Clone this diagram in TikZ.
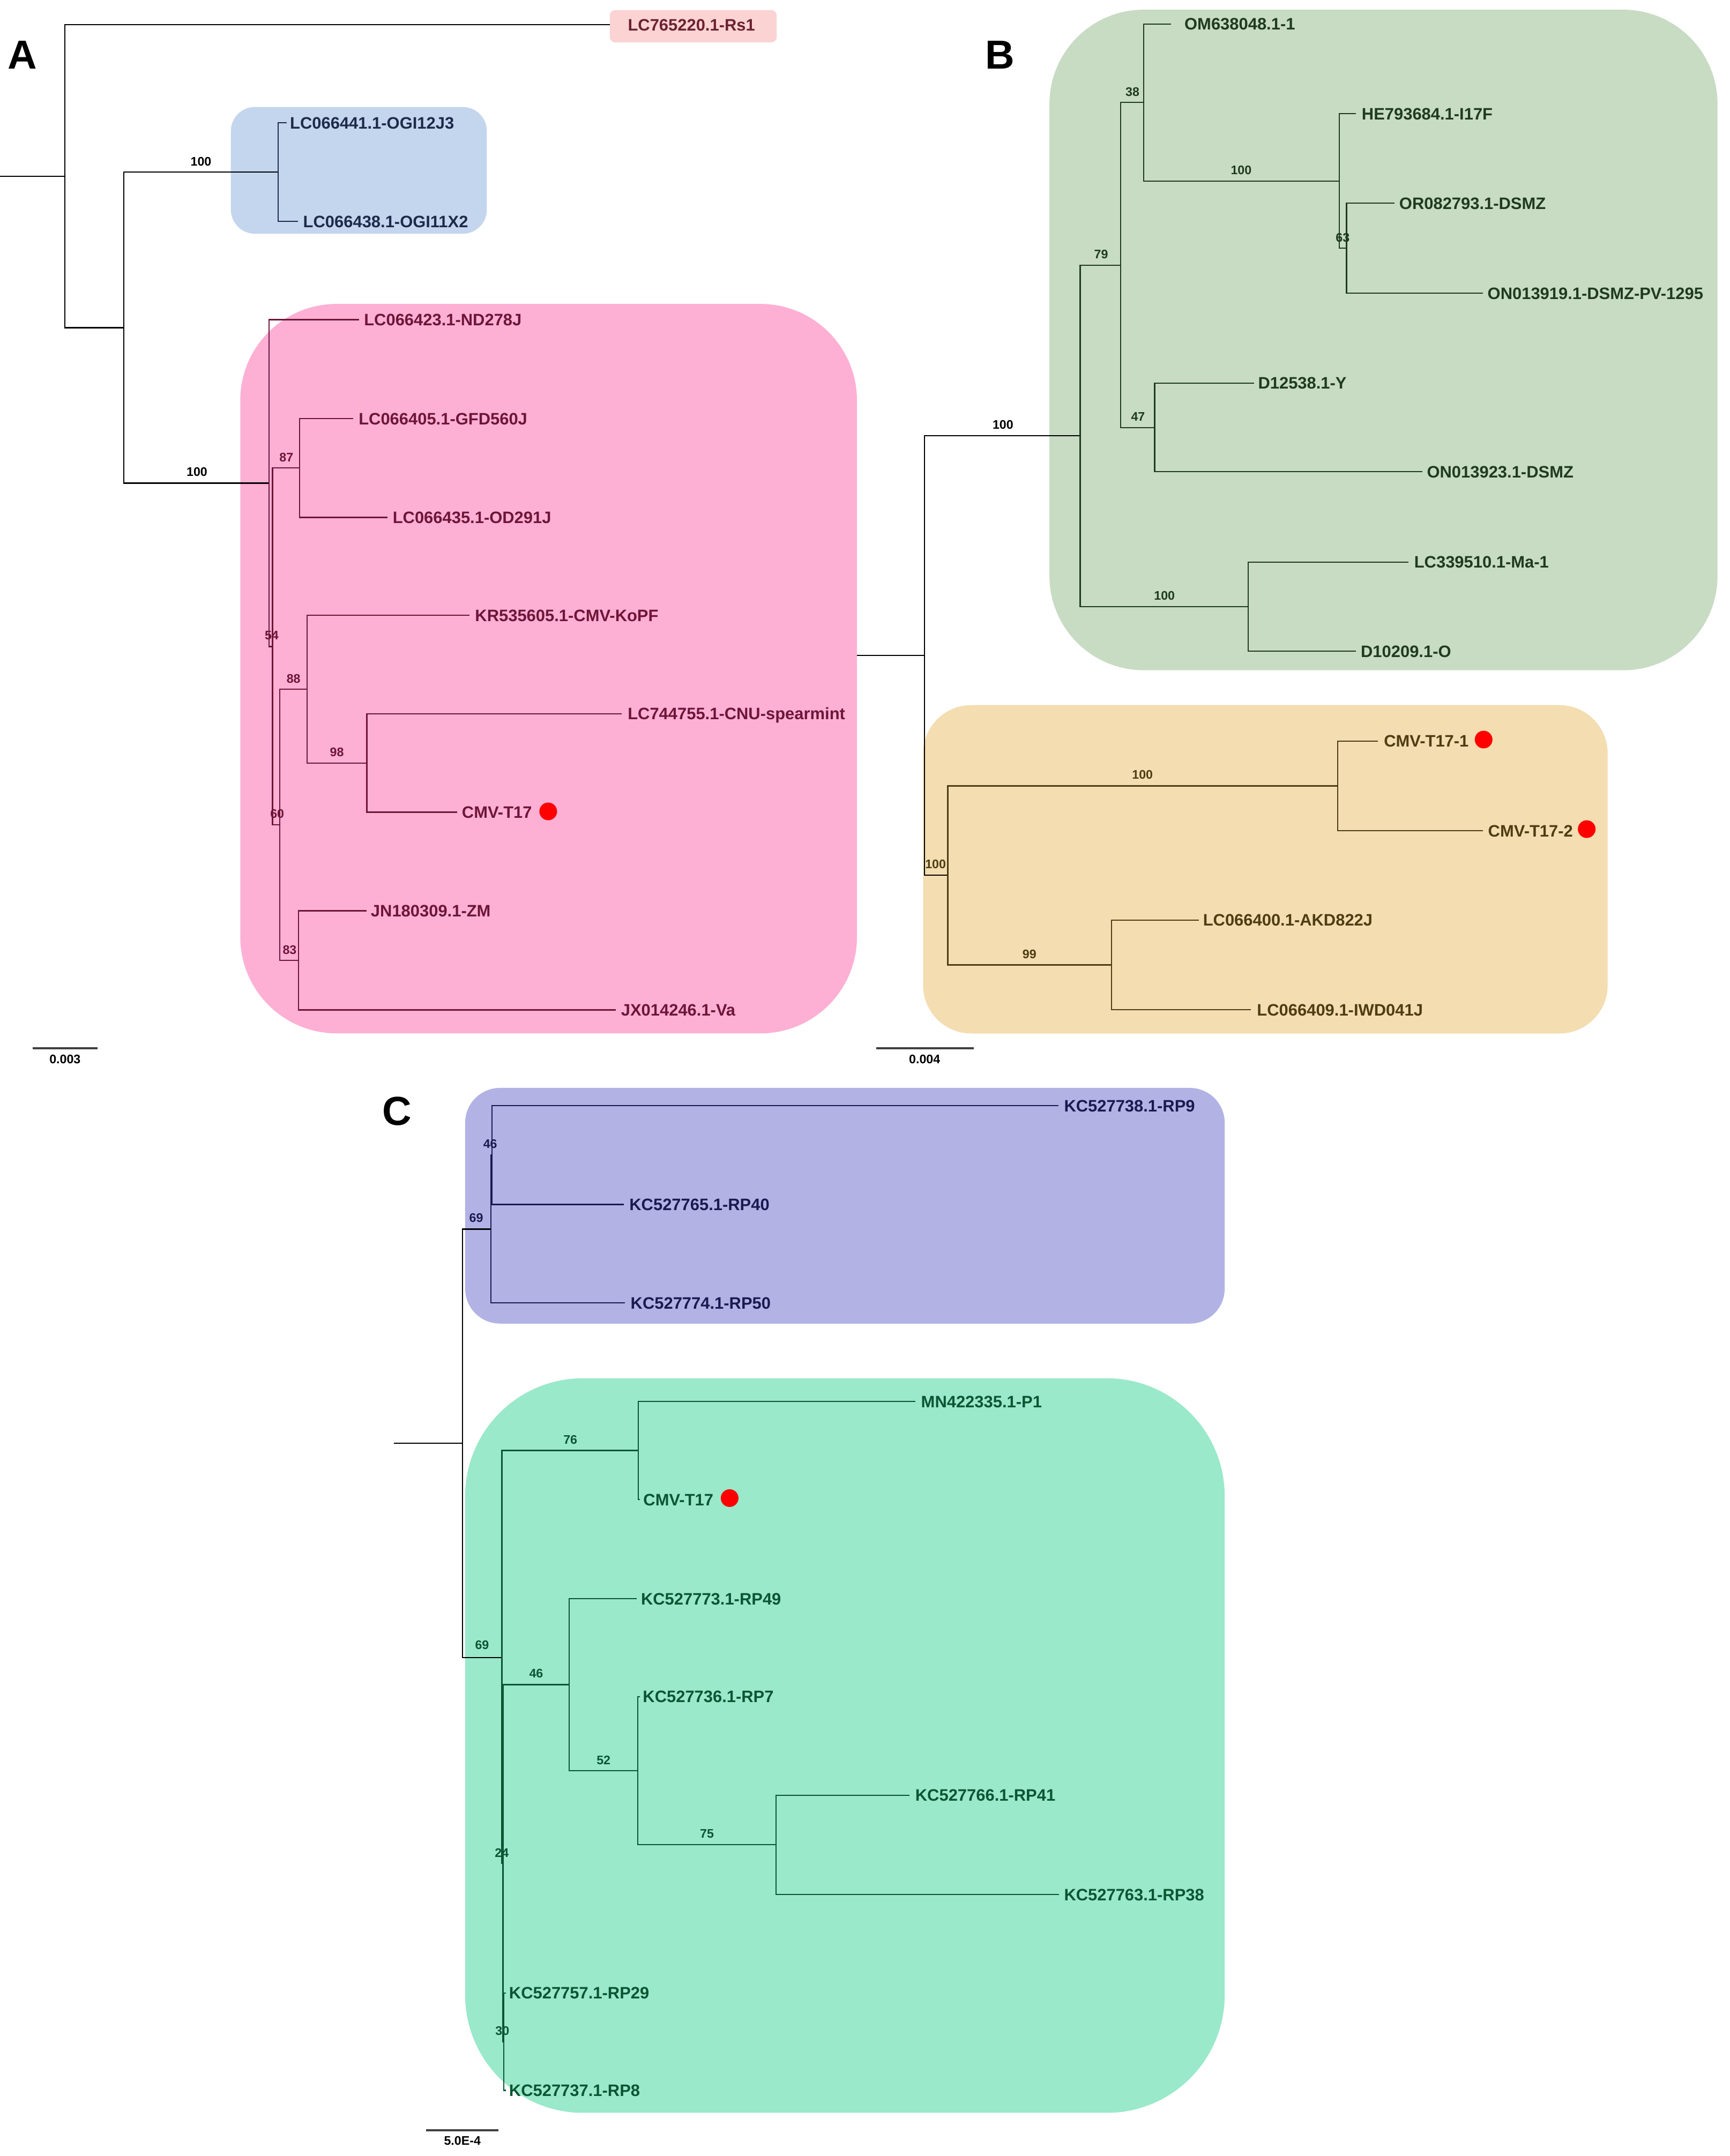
\documentclass[tikz,border=0pt]{standalone}
\usepackage{fontspec}
\setmainfont{Liberation Sans}
\definecolor{rsbox}{HTML}{FBD3D3}
\definecolor{bluebox}{HTML}{C4D5EE}
\definecolor{pinkbox}{HTML}{FDB0D4}
\definecolor{gbbox}{HTML}{C8DBC3}
\definecolor{ybox}{HTML}{F3DDB1}
\definecolor{pbox}{HTML}{B2B3E4}
\definecolor{gcbox}{HTML}{9AE9CA}
\definecolor{rsink}{HTML}{6B2232}
\definecolor{blueink}{HTML}{1C2B4A}
\definecolor{pinkink}{HTML}{6E1538}
\definecolor{gbink}{HTML}{1F3B1F}
\definecolor{yink}{HTML}{4F3C12}
\definecolor{pink2ink}{HTML}{1A1A4F}
\definecolor{gcink}{HTML}{0B5535}
\tikzset{
  br/.style={line width=0.65pt},
  taxon/.style={anchor=west, inner sep=0pt, text height=6.33pt, text depth=0pt, font=\bfseries\fontsize{8.8}{10.6}\selectfont},
  boot/.style={inner sep=0pt, anchor=center, font=\bfseries\fontsize{6.6}{8}\selectfont},
  panel/.style={inner sep=0pt, anchor=center, font=\bfseries\fontsize{21.5}{26}\selectfont},
  reddot/.style={circle, fill=red, draw=none, inner sep=0pt, minimum size=0.33cm},
  sbar/.style={line width=1.1pt, draw=black!75}
}
\newcommand{\leafnode}[6]{\coordinate (#1) at (#2,#3);\node[taxon,text=#5] (#1L) at (#4,#3) {#6};}
\begin{document}
\begin{tikzpicture}[x=0.025824cm,y=-0.025824cm]
\useasboundingbox (0,0) rectangle (1250,1557.9);
% ---------- clade boxes ----------
\fill[rsbox, rounded corners=0.1cm] (440.6,7.3) rectangle (561.2,30.6);
\fill[bluebox, rounded corners=0.45cm] (166.8,77.3) rectangle (351.8,168.9);
\fill[pinkbox, rounded corners=1.8cm] (173.6,219.6) rectangle (619.2,746.7);
\fill[gbbox, rounded corners=1.76cm] (758.3,7.0) rectangle (1241.0,484.3);
\fill[ybox, rounded corners=0.9cm] (667.0,509.5) rectangle (1161.6,746.8);
\fill[pbox, rounded corners=0.65cm] (336.1,786.1) rectangle (884.9,956.4);
\fill[gcbox, rounded corners=2.2cm] (336.1,995.9) rectangle (884.9,1526.7);
% ---------- panel letters ----------
\node[panel] (lblA) at (16.3,39.8) {A};
\node[panel] (lblB) at (722.5,39.5) {B};
\node[panel] (lblC) at (287,803) {C};
% =============== PANEL A ===============
\coordinate (Astub) at (0,127.3);
\coordinate (Ar) at (46.9,127.3);
\coordinate (An1) at (89.4,236.75);
\coordinate (Ablue) at (201.0,124.4);
\coordinate (Apink) at (194.5,349.1);
\coordinate (A54) at (196.9,467.2);
\coordinate (A87) at (216.4,338.15);
\coordinate (A60) at (202.1,596.1);
\coordinate (A88) at (222.0,498.0);
\coordinate (A98) at (265.1,551.3);
\coordinate (A83) at (215.6,693.95);
\leafnode{tRs}{440.6}{17.8}{453.4}{rsink}{LC765220.1-Rs1}
\leafnode{tOGIa}{207.3}{88.8}{209.3}{blueink}{LC066441.1-OGI12J3}
\leafnode{tOGIb}{215.5}{160.0}{218.8}{blueink}{LC066438.1-OGI11X2}
\leafnode{tND}{259.3}{231.0}{262.8}{pinkink}{LC066423.1-ND278J}
\leafnode{tGFD}{255.0}{302.4}{258.9}{pinkink}{LC066405.1-GFD560J}
\leafnode{tOD}{280.0}{373.9}{283.5}{pinkink}{LC066435.1-OD291J}
\leafnode{tKoPF}{339.2}{444.6}{343.0}{pinkink}{KR535605.1-CMV-KoPF}
\leafnode{tSp}{449.3}{515.7}{453.3}{pinkink}{LC744755.1-CNU-spearmint}
\leafnode{tTa}{330.5}{586.9}{333.5}{pinkink}{CMV-T17}
\leafnode{tZM}{264.8}{658.1}{267.7}{pinkink}{JN180309.1-ZM}
\leafnode{tVa}{444.9}{729.8}{448.5}{pinkink}{JX014246.1-Va}
\node[reddot] (dA) at (396.1,586.3) {};
\draw[br] (Astub) -- (Ar);
\draw[br] (Ar) |- (tRs) (Ar) |- (An1) (An1) |- (Ablue) (An1) |- (Apink);
\draw[br,blueink] (Ablue) |- (tOGIa) (Ablue) |- (tOGIb);
\draw[br,pinkink] (Apink) |- (tND) (Apink) |- (A54)
  (A54) |- (A87) (A54) |- (A60)
  (A87) |- (tGFD) (A87) |- (tOD)
  (A60) |- (A88) (A60) |- (A83)
  (A88) |- (tKoPF) (A88) |- (A98)
  (A98) |- (tSp) (A98) |- (tTa)
  (A83) |- (tZM) (A83) |- (tVa);
\node[boot] (bA1) at (145.2,116.6) {100};
\node[boot] (bA2) at (142.3,340.8) {100};
\node[boot,text=pinkink] (bA3) at (206.9,330.4) {87};
\node[boot,text=pinkink] (bA4) at (196.3,459.0) {54};
\node[boot,text=pinkink] (bA5) at (212.1,490.5) {88};
\node[boot,text=pinkink] (bA6) at (243.4,543.4) {98};
\node[boot,text=pinkink] (bA7) at (200.3,588.2) {60};
\node[boot,text=pinkink] (bA8) at (209.3,686.4) {83};
\coordinate (sA1) at (23.5,757.5);
\coordinate (sA2) at (70.5,757.5);
\draw[sbar] (sA1) -- (sA2);
\node[boot] (sAl) at (47,765.3) {0.003};
% =============== PANEL B ===============
\coordinate (Bstub) at (619.2,473.5);
\coordinate (Br) at (668.1,473.5);
\coordinate (Bg) at (780.5,314.8);
\coordinate (By) at (684.8,632.4);
\coordinate (B79) at (809.6,191.6);
\coordinate (B38) at (826.3,74.1);
\coordinate (B100d) at (967.8,130.9);
\coordinate (B63) at (973.0,179.4);
\coordinate (B47) at (834.3,308.9);
\coordinate (B100c) at (902.0,438.35);
\coordinate (B100b) at (966.6,567.85);
\coordinate (B99) at (803.2,697.25);
\leafnode{tOM}{846.3}{17.3}{855.6}{gbink}{OM638048.1-1}
\leafnode{tHE}{979.8}{82.2}{983.7}{gbink}{HE793684.1-I17F}
\leafnode{tOR}{1007.7}{146.9}{1010.8}{gbink}{OR082793.1-DSMZ}
\leafnode{tONa}{1071.4}{211.9}{1074.6}{gbink}{ON013919.1-DSMZ-PV-1295}
\leafnode{tD12}{906.0}{276.8}{908.8}{gbink}{D12538.1-Y}
\leafnode{tONb}{1027.6}{340.9}{1030.8}{gbink}{ON013923.1-DSMZ}
\leafnode{tMa}{1017.6}{406.1}{1021.6}{gbink}{LC339510.1-Ma-1}
\leafnode{tD10}{979.8}{470.6}{983.0}{gbink}{D10209.1-O}
\leafnode{tTb}{995.7}{535.5}{999.7}{yink}{CMV-T17-1}
\leafnode{tTc}{1071.4}{600.2}{1075.0}{yink}{CMV-T17-2}
\leafnode{tAKD}{866.2}{664.8}{869.0}{yink}{LC066400.1-AKD822J}
\leafnode{tIWD}{904.0}{729.7}{908.0}{yink}{LC066409.1-IWD041J}
\node[reddot] (dB1) at (1072.0,534.4) {};
\node[reddot] (dB2) at (1146.5,599.1) {};
\draw[br] (Bstub) -- (Br);
\draw[br] (Br) |- (Bg) (Br) |- (By);
\draw[br,gbink] (Bg) |- (B79) (Bg) |- (B100c)
  (B79) |- (B38) (B79) |- (B47)
  (B38) |- (tOM) (B38) |- (B100d)
  (B100d) |- (tHE) (B100d) |- (B63)
  (B63) |- (tOR) (B63) |- (tONa)
  (B47) |- (tD12) (B47) |- (tONb)
  (B100c) |- (tMa) (B100c) |- (tD10);
\draw[br,yink] (By) |- (B100b) (By) |- (B99)
  (B100b) |- (tTb) (B100b) |- (tTc)
  (B99) |- (tAKD) (B99) |- (tIWD);
\node[boot] (bB1) at (724.7,307.0) {100};
\node[boot,text=gbink] (bB2) at (795.6,183.8) {79};
\node[boot,text=gbink] (bB3) at (818.3,66.6) {38};
\node[boot,text=gbink] (bB4) at (896.8,122.8) {100};
\node[boot,text=gbink] (bB5) at (970.2,171.8) {63};
\node[boot,text=gbink] (bB6) at (822.3,301.1) {47};
\node[boot,text=gbink] (bB7) at (841.4,430.3) {100};
\node[boot,text=yink] (bB8) at (676.0,624.6) {100};
\node[boot,text=yink] (bB9) at (825.5,559.8) {100};
\node[boot,text=yink] (bB10) at (743.8,689.5) {99};
\coordinate (sB1) at (633.3,757.6);
\coordinate (sB2) at (703.6,757.6);
\draw[sbar] (sB1) -- (sB2);
\node[boot] (sBl) at (668.1,765.2) {0.004};
% =============== PANEL C ===============
\coordinate (Cstub) at (284.5,1042.9);
\coordinate (Cr) at (334.1,1042.9);
\coordinate (C69a) at (354.6,888.1);
\coordinate (C46) at (355.6,834.65);
\coordinate (C69b) at (362.6,1197.7);
\coordinate (C76) at (461.2,1048.1);
\coordinate (C24) at (363.4,1346.3);
\coordinate (C46b) at (411.3,1217.3);
\coordinate (C52) at (460.8,1279.4);
\coordinate (C75) at (560.7,1333.0);
\coordinate (C30) at (364.0,1475.3);
\leafnode{tRP9}{764.8}{799.0}{768.6}{pink2ink}{KC527738.1-RP9}
\leafnode{tRP40}{450.8}{870.3}{454.5}{pink2ink}{KC527765.1-RP40}
\leafnode{tRP50}{451.6}{941.5}{455.4}{pink2ink}{KC527774.1-RP50}
\leafnode{tMN}{661.5}{1012.7}{665.3}{gcink}{MN422335.1-P1}
\leafnode{tTd}{462.4}{1083.5}{464.6}{gcink}{CMV-T17}
\leafnode{tRP49}{460.0}{1155.2}{462.9}{gcink}{KC527773.1-RP49}
\leafnode{tRP7}{462.2}{1225.9}{464.2}{gcink}{KC527736.1-RP7}
\leafnode{tRP41}{657.3}{1297.2}{661.1}{gcink}{KC527766.1-RP41}
\leafnode{tRP38}{765.2}{1368.9}{768.6}{gcink}{KC527763.1-RP38}
\leafnode{tRP29}{365.6}{1440.1}{367.6}{gcink}{KC527757.1-RP29}
\leafnode{tRP8}{365.6}{1510.4}{367.6}{gcink}{KC527737.1-RP8}
\node[reddot] (dC) at (527.2,1082.5) {};
\draw[br] (Cstub) -- (Cr);
\draw[br] (Cr) |- (C69a) (Cr) |- (C69b);
\draw[br,pink2ink] (C69a) |- (C46) (C69a) |- (tRP50)
  (C46) |- (tRP9) (C46) |- (tRP40);
\draw[br,gcink] (C69b) |- (C76) (C69b) |- (C24)
  (C76) |- (tMN) (C76) |- (tTd)
  (C24) |- (C46b) (C24) |- (C30)
  (C46b) |- (tRP49) (C46b) |- (C52)
  (C52) |- (tRP7) (C52) |- (C75)
  (C75) |- (tRP41) (C75) |- (tRP38)
  (C30) |- (tRP29) (C30) |- (tRP8);
\node[boot,text=pink2ink] (bC1) at (354.2,826.7) {46};
\node[boot,text=pink2ink] (bC2) at (344.1,880.2) {69};
\node[boot,text=gcink] (bC3) at (348.3,1188.8) {69};
\node[boot,text=gcink] (bC4) at (412.1,1040.4) {76};
\node[boot,text=gcink] (bC5) at (387.4,1209.1) {46};
\node[boot,text=gcink] (bC6) at (436.1,1272.0) {52};
\node[boot,text=gcink] (bC7) at (510.8,1324.9) {75};
\node[boot,text=gcink] (bC8) at (362.6,1338.7) {24};
\node[boot,text=gcink] (bC9) at (363.0,1467.3) {30};
\coordinate (sC1) at (308.0,1539.3);
\coordinate (sC2) at (360.1,1539.3);
\draw[sbar] (sC1) -- (sC2);
\node[boot] (sCl) at (334.1,1546.8) {5.0E-4};
\end{tikzpicture}
\end{document}
